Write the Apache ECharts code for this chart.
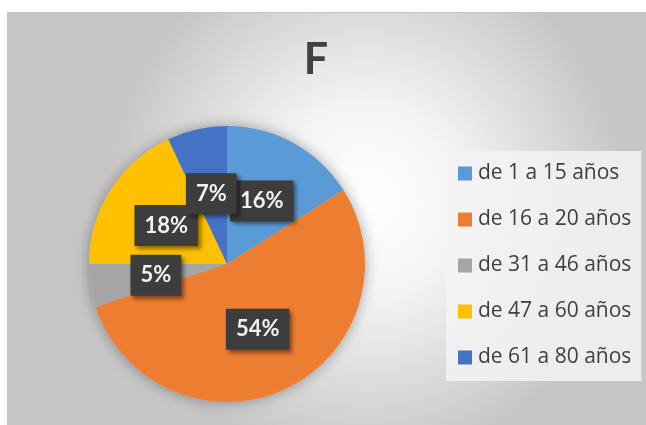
<!DOCTYPE html>
<html>
<head>
<meta charset="utf-8">
<script src="https://cdn.jsdelivr.net/npm/echarts@6/dist/echarts.min.js"></script>
<style>
  html, body { margin: 0; padding: 0; background: #fff; }
  #chart { width: 646px; height: 425px; }
</style>
</head>
<body>
<div id="chart"></div>
<script>
const titleText = 'F'
const categories = ['de 1 a 15 años', 'de 16 a 20 años', 'de 31 a 46 años', 'de 47 a 60 años', 'de 61 a 80 años']
const values = [16, 54, 5, 18, 7]
const colors = ['#5B9BD5', '#ED7D31', '#A5A5A5', '#FFC000', '#4472C4']

const pieData = categories.map((name, i) => ({
  name: name,
  value: values[i],
  itemStyle: { color: colors[i] }
}))

const chart = echarts.init(document.getElementById('chart'))

const option = {
  animation: false,
  backgroundColor: '#fff',
  graphic: [{
    type: 'rect',
    z: -10,
    silent: true,
    shape: { x: 7.5, y: 12.5, width: 650, height: 420 },
    style: {
      fill: new echarts.graphic.RadialGradient(0.55, 0.45, 0.62, [
        { offset: 0, color: '#ffffff' },
        { offset: 0.35, color: '#f5f5f5' },
        { offset: 1, color: '#c6c6c6' }
      ]),
      stroke: '#c4c4c4',
      lineWidth: 1
    }
  }],
  title: {
    text: titleText,
    left: 311,
    top: 34,
    textAlign: 'center',
    textStyle: {
      fontFamily: 'Lato',
      fontWeight: 'bold',
      fontSize: 43,
      color: '#404040'
    }
  },
  legend: {
    orient: 'vertical',
    left: 446,
    top: 151,
    padding: [12, 10, 13, 12],
    backgroundColor: 'rgba(243,243,243,0.85)',
    itemWidth: 14,
    itemHeight: 14,
    itemGap: 25,
    icon: 'rect',
    selectedMode: false,
    textStyle: {
      fontFamily: 'Open Sans',
      fontSize: 21,
      lineHeight: 20,
      color: '#404040',
      padding: [0, 0, 0, 1]
    },
    data: categories
  },
  series: [
    {
      // sombra suave bajo el pastel
      type: 'pie',
      silent: true,
      center: [227, 264],
      radius: 138,
      startAngle: 90,
      z: 1,
      label: { show: false },
      labelLine: { show: false },
      itemStyle: {
        color: '#d0d0d0',
        shadowBlur: 14,
        shadowColor: 'rgba(0,0,0,0.35)'
      },
      data: values.map(v => ({ value: v }))
    },
    {
      type: 'pie',
      center: [227, 264],
      radius: 138,
      startAngle: 90,
      clockwise: true,
      z: 2,
      label: {
        show: true,
        position: 'inside',
        formatter: '{d}%',
        fontFamily: 'Lato',
        fontWeight: 'bold',
        fontSize: 22,
        lineHeight: 27,
        color: '#f2f2f2',
        backgroundColor: '#3d3d3d',
        padding: [7, 10],
        shadowColor: 'rgba(0,0,0,0.45)',
        shadowBlur: 4,
        shadowOffsetX: 3,
        shadowOffsetY: 3
      },
      labelLayout: { hideOverlap: false },
      labelLine: { show: false },
      emphasis: { disabled: true },
      data: pieData
    }
  ]
}

chart.setOption(option)
</script>
</body>
</html>
